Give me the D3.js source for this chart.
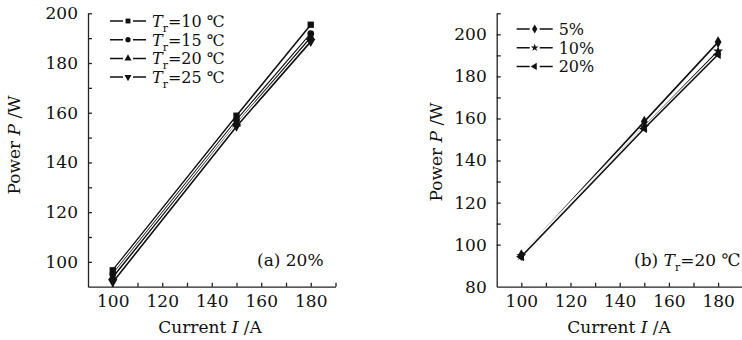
<!DOCTYPE html>
<html lang="en">
<head>
  <meta charset="UTF-8">
  <title>Power vs current</title>
  <script src="https://d3js.org/d3.v7.min.js"></script>
  <style>
    body { margin: 0; background: #fff; }
    svg { display: block; font-family: "DejaVu Serif", serif; }
    .axis text { font-size: 17px; font-family: "DejaVu Serif", serif; fill: #111; }
    .axis path, .axis line { stroke: #222; stroke-width: 1.3; }
  </style>
</head>
<body>
<svg width="742" height="340"></svg>
<script>
  // data
  const current = [100, 150, 180];

  const tempLabels = ["10", "15", "20", "25"];
  const tempPower = [
    [96.6, 158.8, 195.4],
    [95.0, 157.0, 191.8],
    [93.8, 155.5, 190.3],
    [91.8, 154.5, 188.6]
  ];

  const ratioLabels = ["5%", "10%", "20%"];
  const ratioPower = [
    [95.0, 158.5, 196.3],
    [94.7, 156.0, 192.0],
    [94.3, 155.2, 190.4]
  ];

  const xTicks = [90, 100, 110, 120, 130, 140, 150, 160, 170, 180, 190];
  const xLabels = [100, 120, 140, 160, 180];
  const yTicksA = d3.range(90, 201, 10);
  const yLabelsA = [100, 120, 140, 160, 180, 200];
  const yTicksB = d3.range(80, 211, 10);
  const yLabelsB = [80, 100, 120, 140, 160, 180, 200];

  const svg = d3.select("svg");

  function marker(type, size) {
    return d3.symbol(type, size)();
  }

  function panel(opt) {
    const x = d3.scaleLinear().domain([90, 190]).range(opt.xr);
    const y = d3.scaleLinear().domain(opt.yd).range([286.7, 13.3]);
    const g = svg.append("g");

    g.append("g").attr("class", "axis")
      .attr("transform", `translate(0,${y.range()[0]})`)
      .call(d3.axisBottom(x).tickValues(xTicks).tickSizeInner(-4).tickSizeOuter(0).tickPadding(8)
        .tickFormat(d => xLabels.includes(d) ? d : ""));

    g.append("g").attr("class", "axis")
      .attr("transform", `translate(${x.range()[0]},0)`)
      .call(d3.axisLeft(y).tickValues(opt.yTicks).tickSizeInner(-4).tickSizeOuter(0).tickPadding(10)
        .tickFormat(d => opt.yLabels.includes(d) ? d : ""));

    g.selectAll(".axis .tick line").filter(d => d === opt.yd[0] || d === 90).remove();

    const line = d3.line().x((d, i) => x(current[i])).y(d => y(d));

    opt.series.forEach(s => {
      g.append("path").datum(s).attr("d", line)
        .attr("fill", "none").attr("stroke", "#fff").attr("stroke-width", 4);
      g.append("path").datum(s).attr("d", line)
        .attr("fill", "none").attr("stroke", "#111").attr("stroke-width", 1.6);
    });
    opt.series.forEach((s, k) => {
      g.selectAll(null).data(s).join("path")
        .attr("d", marker(opt.symbols[k], opt.sizes[k]))
        .attr("transform", (d, i) => `translate(${x(current[i])},${y(d)}) rotate(${opt.rotations[k]})`)
        .attr("fill", "#111");
    });

    // legend
    opt.legend.forEach((lab, k) => {
      const ly = opt.ly + k * opt.lstep;
      g.append("line").attr("x1", opt.lx).attr("x2", opt.lx + 36)
        .attr("y1", ly).attr("y2", ly).attr("stroke", "#111").attr("stroke-width", 1.5);
      g.append("rect").attr("x", opt.lx + 13).attr("y", ly - 3).attr("width", 10).attr("height", 6).attr("fill", "#fff");
      g.append("path").attr("d", marker(opt.symbols[k], opt.sizes[k] * 0.6))
        .attr("transform", `translate(${opt.lx + 18},${ly}) rotate(${opt.rotations[k]})`)
        .attr("fill", "#111");
      const t = g.append("text").attr("x", opt.lx + 42).attr("y", ly + 6)
        .attr("font-size", 16).attr("fill", "#111");
      opt.writeLabel(t, lab);
    });

    // axis titles
    const yt = g.append("text")
      .attr("transform", `translate(${opt.ytx},${opt.yty}) rotate(-90)`)
      .attr("text-anchor", "middle").attr("font-size", 17).attr("fill", "#111");
    yt.append("tspan").text("Power ");
    yt.append("tspan").attr("font-style", "italic").text("P");
    yt.append("tspan").text(" /W");

    const xt = g.append("text")
      .attr("x", opt.xtx).attr("y", 333)
      .attr("text-anchor", "middle").attr("font-size", 17).attr("fill", "#111");
    xt.append("tspan").text("Current ");
    xt.append("tspan").attr("font-style", "italic").text("I");
    xt.append("tspan").text(" /A");

    const note = g.append("text").attr("x", opt.nx).attr("y", 266)
      .attr("font-size", 17).attr("fill", "#111");
    opt.writeNote(note);
  }

  function writeT(t, val) {
    t.append("tspan").attr("font-style", "italic").text("T");
    t.append("tspan").attr("font-size", 11).attr("dy", 5).text("r");
    t.append("tspan").attr("dy", -5).text("=" + val + " \u2103");
  }

  panel({
    xr: [88, 335.5],
    yd: [90, 200],
    yTicks: yTicksA,
    yLabels: yLabelsA,
    series: tempPower,
    symbols: [d3.symbolSquare, d3.symbolCircle, d3.symbolTriangle, d3.symbolTriangle],
    sizes: [40, 36, 36, 36],
    rotations: [0, 0, 0, 180],
    legend: tempLabels,
    lx: 110, ly: 21, lstep: 18.7,
    writeLabel: writeT,
    ytx: 20, yty: 145,
    xtx: 210,
    nx: 257,
    writeNote: t => t.text("(a) 20%")
  });

  panel({
    xr: [496.7, 742.7],
    yd: [80, 210],
    yTicks: yTicksB,
    yLabels: yLabelsB,
    series: ratioPower,
    symbols: [d3.symbolDiamond, d3.symbolStar, d3.symbolTriangle],
    sizes: [40, 32, 36],
    rotations: [0, 0, -90],
    legend: ratioLabels,
    lx: 516.7, ly: 29, lstep: 18.7,
    writeLabel: (t, lab) => t.text(lab),
    ytx: 442, yty: 152,
    xtx: 619,
    nx: 634,
    writeNote: t => { t.append("tspan").text("(b) "); writeT(t, "20"); }
  });
</script>
</body>
</html>
